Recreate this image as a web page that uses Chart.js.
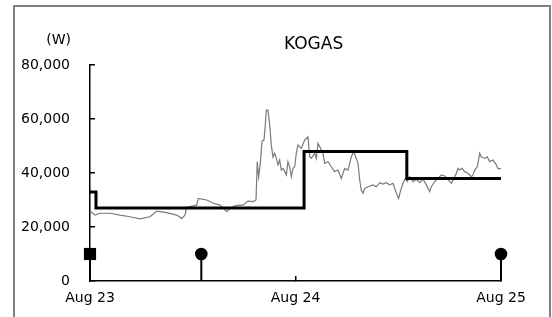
<!DOCTYPE html>
<html>
<head>
<meta charset="utf-8">
<script src="https://cdn.jsdelivr.net/npm/chart.js@4.4.1/dist/chart.umd.min.js"></script>
<style>
  body { margin: 0; background: #fff; }
  #wrap { position: relative; width: 552px; height: 317px; overflow: hidden; }
  #frame { position: absolute; left: 13px; top: 5px; width: 534px; height: 340px; border: 2px solid #808080; pointer-events: none; }
  canvas { position: absolute; left: 0; top: 0; }
</style>
</head>
<body>
<div id="wrap">
  <canvas id="chart" width="552" height="317"></canvas>
  <div id="frame"></div>
</div>
<script>
const chartTitle = 'KOGAS';
const unitLabel = '(W)';

// hours from Aug 23 00:00
const grayHours = [0, 0.58, 1.17, 2.34, 3.5, 4.67, 5.84, 7.01, 7.79, 8.96, 10.13, 10.71, 11.09, 11.29, 12.46, 12.65, 13.63, 14.4, 15.18, 15.96,
  16.35, 16.9, 17.52, 17.87, 18.45, 19.07, 19.39, 19.53, 19.7, 19.91, 20.09, 20.32, 20.47, 20.59, 20.79, 20.99, 21.17, 21.37, 21.57, 21.76,
  21.96, 22.15, 22.34, 22.54, 22.74, 22.93, 23.12, 23.32, 23.51, 23.71, 23.91, 24.09, 24.29, 24.68, 25.07, 25.46, 25.66, 25.85, 26.24, 26.43,
  26.63, 26.83, 27.21, 27.41, 27.8, 28.18, 28.58, 28.96, 29.35, 29.75, 30.13, 30.52, 30.8, 31.1, 31.3, 31.5, 31.68, 31.88, 32.08, 32.47,
  33.05, 33.44, 33.83, 34.22, 34.6, 35.0, 35.39, 35.59, 35.77, 36.05, 36.24, 36.55, 36.82, 37.06, 37.34, 37.72, 38.11, 38.51, 38.89, 39.28,
  39.67, 39.86, 40.26, 40.64, 41.03, 41.43, 42.01, 42.2, 42.51, 42.78, 42.98, 43.18, 43.45, 43.76, 44.15, 44.53, 44.73, 44.93, 45.23, 45.51,
  45.7, 46.1, 46.4, 46.68, 47.07, 47.46, 47.64, 48];
const grayValues = [25900, 24400, 25100, 25100, 24400, 23800, 23000, 23800, 25900, 25300, 24400, 23200, 24400, 27300, 28100, 30600, 30000, 28800, 28100, 25700,
  26900, 27800, 28100, 28100, 29600, 29400, 30000, 44200, 38600, 44200, 51800, 52200, 57800, 63300, 63300, 57800, 50400, 45900, 47300, 45400,
  43000, 44800, 41100, 41700, 40500, 39300, 44200, 42300, 38600, 41700, 42300, 47300, 50400, 49100, 52200, 53400, 46000, 45400, 47300, 45400,
  51000, 49700, 47300, 43600, 44200, 42300, 40500, 41100, 38000, 41700, 41100, 46000, 47900, 45400, 43600, 37400, 33700, 32500, 34300, 34900,
  35600, 34900, 36400, 35900, 36400, 35600, 36200, 34300, 32500, 30600, 33100, 36200, 38000, 36800, 38600, 36800, 37700, 36400, 37700, 35600,
  33100, 34900, 36800, 38000, 39300, 38900, 36800, 36200, 38000, 39900, 41700, 41100, 41700, 40500, 39900, 38600, 39300, 41100, 42300, 47300,
  46000, 45400, 46000, 44200, 44800, 43000, 41700, 41500];

const stepHours = [0, 0.7, 25, 37, 48];
const stepValues = [33000, 27000, 48000, 38000, 38000];

const markerHours = [0, 13, 48];
const markerValues = [10000, 10000, 10000];
const markerStyles = ['rect', 'circle', 'circle'];

const dayTicks = [0, 24, 48];
const dayLabels = ['Aug 23', 'Aug 24', 'Aug 25'];
const valueTicks = [0, 20000, 40000, 60000, 80000];

const font = 'DejaVu Sans';

const toPoints = (xs, ys) => xs.map((x, i) => ({x: x, y: ys[i]}));

const stemSets = markerHours.map((h, i) => ({
  data: [{x: h, y: 0}, {x: h, y: markerValues[i]}],
  borderColor: '#000',
  borderWidth: 2,
  pointStyle: markerStyles[i],
  pointRadius: [0, markerStyles[i] === 'rect' ? 8.6 : 6.3],
  pointBackgroundColor: '#000',
  pointBorderWidth: 0,
  clip: false,
}));

const textPlugin = {
  id: 'texts',
  afterDraw(chart) {
    const ctx = chart.ctx;
    const area = chart.chartArea;
    ctx.save();
    ctx.fillStyle = '#000';
    ctx.textBaseline = 'middle';
    ctx.font = '14px "' + font + '"';
    ctx.textAlign = 'right';
    ctx.fillText(unitLabel, area.left - 19, area.top - 25);
    ctx.font = '17px "' + font + '"';
    ctx.textAlign = 'center';
    ctx.fillText(chartTitle, area.left + (area.right - area.left) * 0.544, area.top - 20);
    ctx.restore();
  },
};

new Chart(document.getElementById('chart'), {
  type: 'line',
  data: {
    datasets: [
      {
        data: toPoints(stepHours, stepValues),
        stepped: true,
        borderColor: '#000',
        borderWidth: 3,
        pointRadius: 0,
        clip: false,
      },
      ...stemSets,
      {
        data: toPoints(grayHours, grayValues),
        borderColor: '#7a7a7a',
        borderWidth: 1.2,
        pointRadius: 0,
        tension: 0,
      },
    ],
  },
  options: {
    responsive: false,
    animation: false,
    devicePixelRatio: 1,
    layout: {padding: {top: 65, right: 51, left: 0, bottom: 0}},
    plugins: {
      legend: {display: false},
      tooltip: {enabled: false},
    },
    scales: {
      x: {
        type: 'linear',
        min: 0,
        max: 48,
        afterBuildTicks: (scale) => {
          scale.ticks = dayTicks.map((v) => ({value: v}));
        },
        afterFit: (scale) => {
          scale.height = 36;
        },
        ticks: {
          callback: (value, index) => dayLabels[index],
          color: '#000',
          font: {family: font, size: 14},
          padding: 14,
          maxRotation: 0,
        },
        grid: {
          drawOnChartArea: false,
          tickLength: -5,
          color: '#000',
          lineWidth: 1.5,
        },
        border: {color: '#000', width: 1.5},
      },
      y: {
        min: 0,
        max: 80000,
        afterBuildTicks: (scale) => {
          scale.ticks = valueTicks.map((v) => ({value: v}));
        },
        afterFit: (scale) => {
          scale.width = 90;
        },
        ticks: {
          callback: (value) => value.toLocaleString('en-US'),
          color: '#000',
          font: {family: font, size: 14},
          padding: 25,
        },
        grid: {
          drawOnChartArea: false,
          tickLength: -5,
          color: '#000',
          lineWidth: 1.5,
        },
        border: {color: '#000', width: 1.5},
      },
    },
  },
  plugins: [textPlugin],
});
</script>
</body>
</html>
